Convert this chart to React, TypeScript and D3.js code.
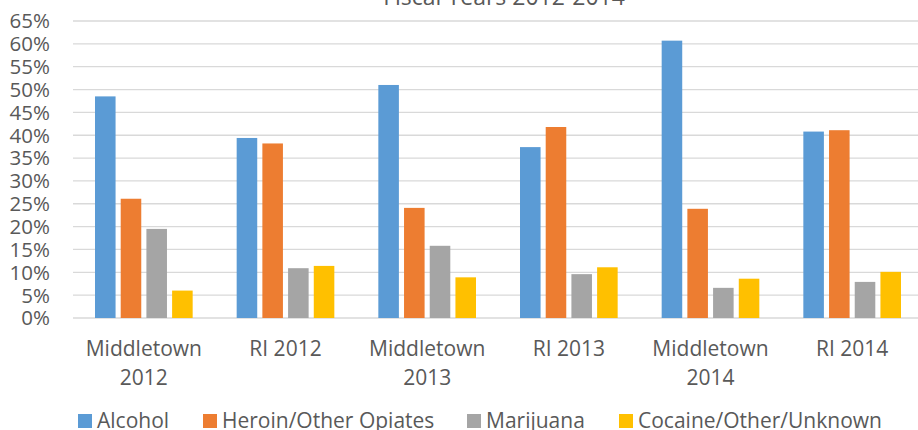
import * as d3 from "d3";

// categories (two-line labels)
const categories = [
  ["Middletown", "2012"],
  ["RI 2012"],
  ["Middletown", "2013"],
  ["RI 2013"],
  ["Middletown", "2014"],
  ["RI 2014"],
];

const seriesNames = ["Alcohol", "Heroin/Other Opiates", "Marijuana", "Cocaine/Other/Unknown"];
const seriesColors = ["#5b9bd5", "#ed7d31", "#a5a5a5", "#ffc000"];

// percentages per category, in series order
const alcohol = [48.5, 39.4, 51.0, 37.4, 60.7, 40.8];
const heroin = [26.1, 38.2, 24.1, 41.8, 23.9, 41.1];
const marijuana = [19.5, 10.9, 15.8, 9.6, 6.6, 7.9];
const cocaine = [6.0, 11.4, 8.9, 11.1, 8.6, 10.1];

const yTicks = [0, 5, 10, 15, 20, 25, 30, 35, 40, 45, 50, 55, 60, 65];
const title = "Fiscal Years 2012-2014";

const W = 918;
const H = 430;
const FONT = "'Open Sans', sans-serif";
const TEXT = "#595959";

export default function App() {
  const values = [alcohol, heroin, marijuana, cocaine];
  const left = 73;
  const right = 923;
  const top = 21;
  const bottom = 318;

  const x0 = d3
    .scaleBand<number>()
    .domain(d3.range(categories.length))
    .range([left, right])
    .paddingInner(0)
    .paddingOuter(0);

  const groupInner = 22;
  const x1 = d3
    .scaleBand<number>()
    .domain(d3.range(seriesNames.length))
    .range([groupInner, x0.bandwidth() - groupInner])
    .paddingInner(0.2);

  const y = d3.scaleLinear().domain([0, 65]).range([bottom, top]);

  const legendX = [78, 203, 467, 619];

  return (
    <svg
      width={W}
      height={H}
      style={{ position: "absolute", left: 0, top: 0, background: "#fff" }}
      fontFamily={FONT}
    >
      <text x={504} y={5} textAnchor="middle" fontSize={23} fill={TEXT}>
        {title}
      </text>

      {yTicks.map((t) => (
        <g key={t}>
          <line
            x1={left}
            x2={W}
            y1={y(t)}
            y2={y(t)}
            stroke="#d9d9d9"
            strokeWidth={t === 0 ? 1.5 : 1.3}
          />
          <text
            x={50}
            y={y(t)}
            dy="0.36em"
            textAnchor="end"
            fontSize={20.5}
            fill={TEXT}
          >
            {t}%
          </text>
        </g>
      ))}

      {categories.map((cat, ci) => (
        <g key={ci} transform={`translate(${x0(ci)},0)`}>
          {values.map((vals, si) => (
            <rect
              key={si}
              x={x1(si)}
              y={y(vals[ci])}
              width={x1.bandwidth()}
              height={y(0) - y(vals[ci])}
              fill={seriesColors[si]}
            />
          ))}
          {cat.map((line, li) => (
            <text
              key={li}
              x={x0.bandwidth() / 2}
              y={356 + li * 29}
              textAnchor="middle"
              fontSize={21}
              fill={TEXT}
            >
              {line}
            </text>
          ))}
        </g>
      ))}

      {seriesNames.map((name, si) => (
        <g key={name}>
          <rect x={legendX[si]} y={414} width={14} height={14} fill={seriesColors[si]} />
          <text x={legendX[si] + 19} y={428} fontSize={21} fill={TEXT}>
            {name}
          </text>
        </g>
      ))}
    </svg>
  );
}
